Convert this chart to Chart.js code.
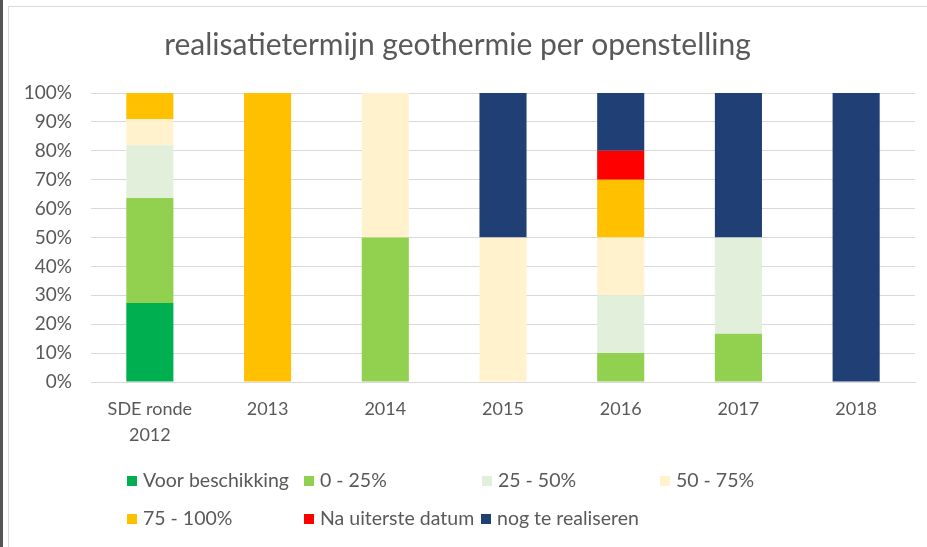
<!DOCTYPE html>
<html>
<head>
<meta charset="utf-8">
<script src="https://cdn.jsdelivr.net/npm/chart.js@4"></script>
<style>
  html, body { margin:0; padding:0; background:#fff; }
  body { width:927px; height:547px; position:relative; overflow:hidden; }
  .strip { position:absolute; left:0; top:0; width:3px; height:547px; background:#555; }
  .frame { position:absolute; left:8px; top:6px; right:0; bottom:0; border-left:1px solid #d9d9d9; border-top:1px solid #d9d9d9; }
  canvas { position:absolute; left:0; top:0; }
</style>
</head>
<body>
<div class="strip"></div>
<div class="frame"></div>
<canvas id="geo" width="927" height="547"></canvas>
<script>
(() => {
  // Data (percent of projects per openstelling)
  const categories = [['SDE ronde','2012'], '2013', '2014', '2015', '2016', '2017', '2018'];
  const voorBeschikking = [27.3, 0, 0, 0, 0, 0, 0];
  const p0_25   = [36.4, 0, 50, 0, 10, 16.7, 0];
  const p25_50  = [18.2, 0, 0, 0, 20, 33.3, 0];
  const p50_75  = [9.1, 0, 50, 50, 20, 0, 0];
  const p75_100 = [9.1, 100, 0, 0, 20, 0, 0];
  const naUiterste = [0, 0, 0, 0, 10, 0, 0];
  const nogTe   = [0, 0, 0, 50, 20, 50, 100];
  const yTicks = [0, 10, 20, 30, 40, 50, 60, 70, 80, 90, 100];

  const txt = '#595959';
  const grid = '#d9d9d9';
  const FONT = 'Lato, "Noto Sans", sans-serif';

  // legend in Excel-like layout: [x of box, y of row]
  const legendPos = [[127,481],[304,481],[482,481],[660,481],[127,519],[304,519],[481,519]];

  const legendPlugin = {
    id: 'xlLegend',
    afterDraw(chart) {
      const ctx = chart.ctx;
      ctx.save();
      ctx.font = '19.5px ' + FONT;
      ctx.textBaseline = 'middle';
      chart.data.datasets.forEach((ds, i) => {
        const [x, y] = legendPos[i];
        ctx.fillStyle = ds.backgroundColor;
        ctx.fillRect(x, y - 5, 10, 10);
        ctx.fillStyle = txt;
        ctx.fillText(ds.label, x + 16, y);
      });
      ctx.restore();
    }
  };

  const mk = (label, data, color) => ({ label, data, backgroundColor: color, borderWidth: 0 });

  new Chart(document.getElementById('geo'), {
    type: 'bar',
    data: {
      labels: categories,
      datasets: [
        mk('Voor beschikking', voorBeschikking, '#00B050'),
        mk('0 - 25%', p0_25, '#92D050'),
        mk('25 - 50%', p25_50, '#E2EFDA'),
        mk('50 - 75%', p50_75, '#FFF2CC'),
        mk('75 - 100%', p75_100, '#FFC000'),
        mk('Na uiterste datum', naUiterste, '#FF0000'),
        mk('nog te realiseren', nogTe, '#203F74')
      ]
    },
    options: {
      responsive: false,
      animation: false,
      layout: { padding: { left: 0, right: 12, top: 0, bottom: 0 } },
      datasets: { bar: { categoryPercentage: 1, barPercentage: 0.4 } },
      plugins: {
        legend: { display: false },
        tooltip: { enabled: false },
        title: {
          display: true,
          text: 'realisatietermijn geothermie per openstelling',
          color: txt,
          font: { family: FONT, size: 30, weight: 'normal' },
          padding: { top: 27, bottom: 30 }
        }
      },
      scales: {
        x: {
          stacked: true,
          grid: { display: false, drawTicks: false },
          border: { color: grid },
          ticks: { color: txt, font: { family: FONT, size: 18, lineHeight: 1.45 }, padding: 14, maxRotation: 0 },
          afterFit: s => { s.height = 165; }
        },
        y: {
          stacked: true,
          min: 0, max: 100,
          afterBuildTicks: s => { s.ticks = yTicks.map(v => ({ value: v })); },
          grid: { color: grid, drawTicks: false },
          border: { display: false },
          ticks: { color: txt, font: { family: FONT, size: 19 }, padding: 19, callback: v => v + '%' },
          afterFit: s => { s.width = 91; }
        }
      }
    },
    plugins: [legendPlugin]
  });
})();
</script>
</body>
</html>
